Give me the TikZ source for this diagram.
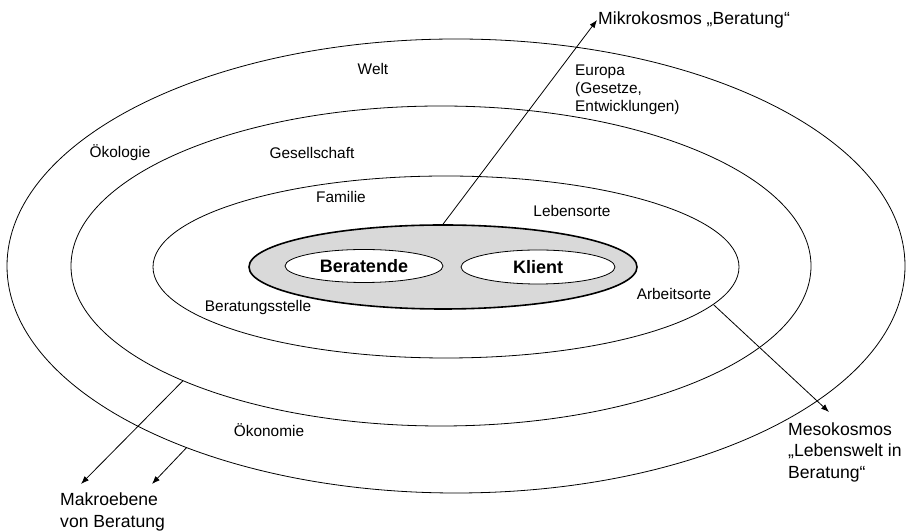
\documentclass[tikz,border=0pt]{standalone}
\usepackage{fontspec}
\setmainfont{Liberation Sans}
\usetikzlibrary{shapes.geometric,arrows.meta}
\tikzset{
    ring/.style={ellipse, draw, line width=0.8pt, inner sep=0pt},
    person/.style={ellipse, draw, fill=white, line width=0.8pt, inner sep=0pt, font=\fontsize{18}{21}\selectfont\bfseries},
    lbl/.style={inner sep=1pt, font=\fontsize{15.4}{18}\selectfont, align=left},
    big/.style={inner sep=1pt, font=\fontsize{17.6}{21.5}\selectfont, align=left},
    pfeil/.style={-{Latex[length=8pt,width=6pt]}, line width=0.8pt}
}
\begin{document}
\begin{tikzpicture}[x=1pt, y=1pt]
\useasboundingbox (0,0) rectangle (912,532);
% the rings
\node[ring, minimum width=898, minimum height=454] (welt) at (456,266) {};
\node[ring, minimum width=740, minimum height=320] (gesell) at (441,266) {};
\node[ring, minimum width=586, minimum height=182] (leben) at (446,265) {};
\node[ring, fill=black!15, line width=1.6pt, minimum width=388, minimum height=84] (kern) at (443,265) {};
\node[person, minimum width=158, minimum height=33] (berat) at (364,266) {Beratende};
\node[person, minimum width=154, minimum height=34] (klient) at (538,265) {Klient};
% labels in the rings
\node[lbl] (weltl) at (373,463) {Welt};
\node[lbl, anchor=west] (europa) at (574,442) {Europa\\(Gesetze,\\Entwicklungen)};
\node[lbl] (oeko) at (120,379) {Ökologie};
\node[lbl] (gesl) at (312,379) {Gesellschaft};
\node[lbl] (fam) at (341,335) {Familie};
\node[lbl] (lebo) at (572,321) {Lebensorte};
\node[lbl] (arbo) at (674,238) {Arbeitsorte};
\node[lbl] (stelle) at (258,224) {Beratungsstelle};
\node[lbl] (oekon) at (269,102) {Ökonomie};
% outer labels
\node[big, anchor=west] (mikro) at (597,512) {Mikrokosmos „Beratung“};
\node[big, anchor=west] (meso) at (787,80) {Mesokosmos\\„Lebenswelt in\\Beratung“};
\node[big, anchor=west] (makro) at (59,20) {Makroebene\\von Beratung};
\coordinate (mesotip) at (829,120);
\coordinate (makroa) at (81,48);
\coordinate (makrob) at (152,48);
% arrows
\draw[pfeil] (kern.north) -- (mikro.west);
\draw[pfeil] (leben.-8) -- (mesotip);
\draw[pfeil] (gesell.-156) -- (makroa);
\draw[pfeil] (welt.-146) -- (makrob);
\end{tikzpicture}
\end{document}
